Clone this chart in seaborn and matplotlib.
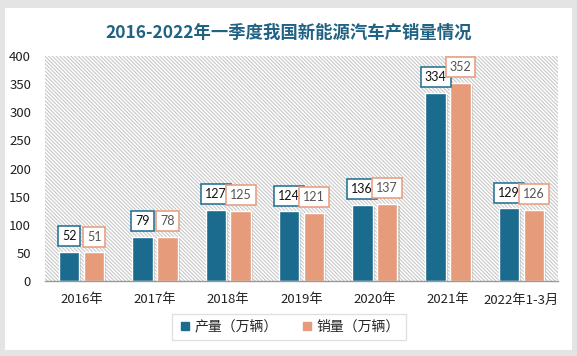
import matplotlib
matplotlib.use("Agg")
import matplotlib.pyplot as plt
import matplotlib.patches as mpatches
import matplotlib.patheffects as pe
from matplotlib.lines import Line2D
import seaborn as sns
import pandas as pd

categories = ["2016年", "2017年", "2018年", "2019年", "2020年", "2021年", "2022年1-3月"]
production = [52, 79, 127, 124, 136, 334, 129]
sales = [51, 78, 125, 121, 137, 352, 126]
series_names = ["产量（万辆）", "销量（万辆）"]
title = "2016-2022年一季度我国新能源汽车产销量情况"

df = pd.DataFrame({
    "cat": categories * 2,
    "value": production + sales,
    "series": [series_names[0]] * len(categories) + [series_names[1]] * len(categories),
})

sns.set_theme(style="white")
plt.rcParams["font.family"] = ["Noto Sans CJK SC", "DejaVu Sans"]
plt.rcParams["hatch.linewidth"] = 0.8

blue = "#1b6b8f"
orange = "#e69b7b"

fig = plt.figure(figsize=(5.77, 3.56), dpi=100, facecolor="#e4e4e4")
card = mpatches.Rectangle((5 / 577, 1 - 350 / 356), 567 / 577, 342 / 356,
                          transform=fig.transFigure, facecolor="white",
                          edgecolor="none", zorder=-10)
fig.patches.append(card)

ax = fig.add_axes([45 / 577, 1 - 281 / 356, 513 / 577, 225 / 356])
ax.set_facecolor("white")
bg = mpatches.Rectangle((0, 0), 1, 1, transform=ax.transAxes, facecolor="white",
                        edgecolor="#c8c8c8", linewidth=0, hatch="\\" * 9, zorder=0)
ax.add_patch(bg)

sns.barplot(data=df, x="cat", y="value", hue="series", palette=[blue, orange],
            width=0.68, gap=0.18, ax=ax, edgecolor="white", linewidth=1,
            saturation=1, legend=False, zorder=2)

for bar in ax.patches:
    if bar is bg:
        continue
    bar.set_path_effects([pe.SimplePatchShadow(offset=(1.5, -1.5), shadow_rgbFace="#888888", alpha=0.35), pe.Normal()])

text_colors = ["#111111", "#555555"]
for cont, col, tcol in zip(ax.containers, [blue, orange], text_colors):
    ax.bar_label(cont, padding=7, fontsize=9, color=tcol, family=["Lato", "DejaVu Sans"],
                 bbox=dict(boxstyle="square,pad=0.32", fc="white", ec=col, lw=1.1))

ax.set_ylim(0, 400)
ax.set_yticks(range(0, 401, 50))
ax.set_xlabel("")
ax.set_ylabel("")
ax.tick_params(axis="both", length=0, labelsize=9.5, colors="#222222")
ax.tick_params(axis="x", pad=9)
ax.tick_params(axis="y", pad=10)
for s in ["top", "right", "left"]:
    ax.spines[s].set_visible(False)
ax.spines["bottom"].set_color("#999999")
ax.spines["bottom"].set_linewidth(1)

fig.text(0.5, 1 - 33 / 356, title, ha="center", va="center", fontsize=12.5,
         fontweight="bold", color="#1f6283")

handles = [Line2D([0], [0], marker="s", linestyle="none", markersize=6,
                  markerfacecolor=c, markeredgecolor=c) for c in [blue, orange]]
leg = fig.legend(handles, series_names, loc="center", ncol=2,
                 bbox_to_anchor=(289 / 577, 1 - 327 / 356), frameon=True,
                 fontsize=10, handletextpad=0.2, columnspacing=1.6,
                 handlelength=1.0, fancybox=False, borderpad=0.4)
leg.get_frame().set_edgecolor("#d9d9d9")
leg.get_frame().set_linewidth(1)

fig.savefig("out.png", dpi=100, facecolor=fig.get_facecolor())
